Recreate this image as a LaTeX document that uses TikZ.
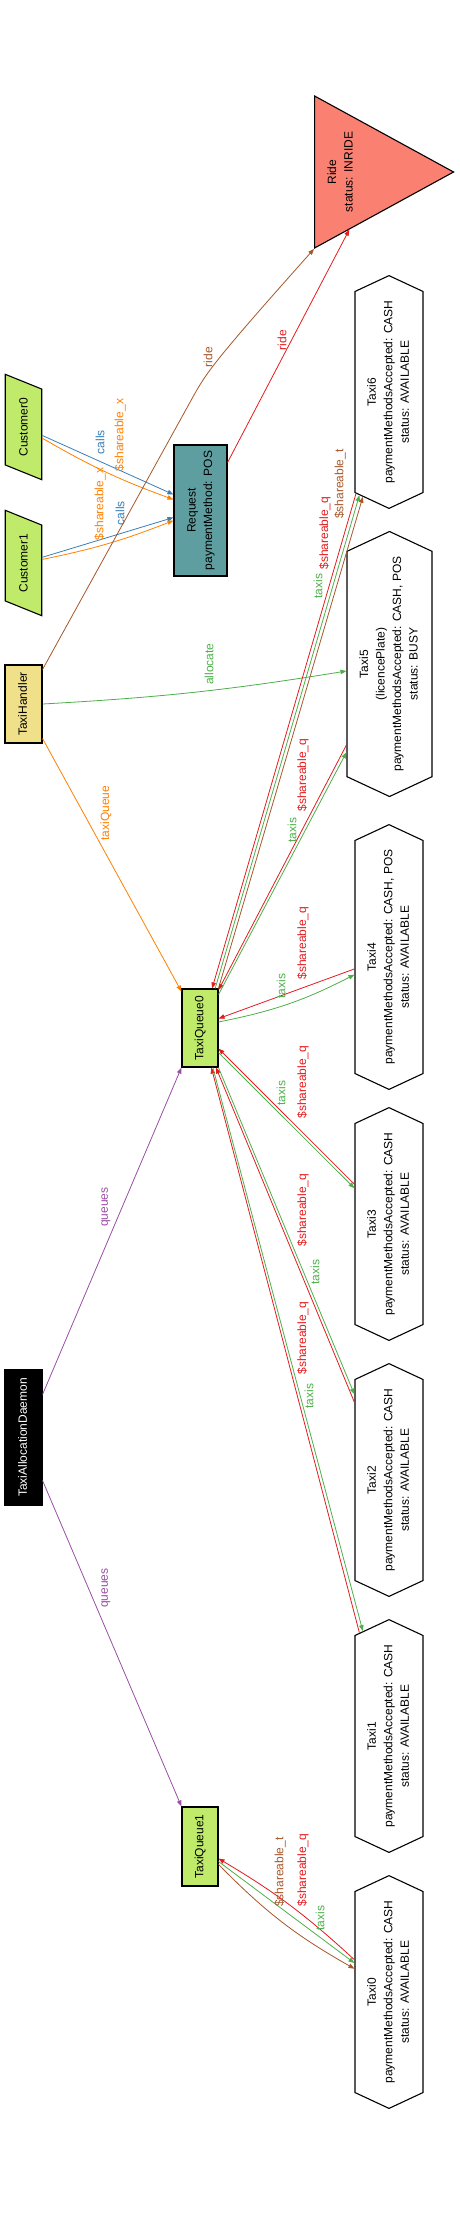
\documentclass[tikz,border=0pt]{standalone}
\usepackage{fontspec}
\setmainfont{Liberation Sans}
\usepackage{graphicx}
\usetikzlibrary{arrows.meta,shapes.geometric,shapes.symbols,calc}

\definecolor{setred}{HTML}{E41A1C}
\definecolor{setblue}{HTML}{377EB8}
\definecolor{setgreen}{HTML}{4DAF4A}
\definecolor{setpurple}{HTML}{984EA3}
\definecolor{setorange}{HTML}{FF7F00}
\definecolor{setbrown}{HTML}{A65628}
\definecolor{limefill}{HTML}{C0EB6A}
\definecolor{sandfill}{HTML}{F0E08A}
\definecolor{reqfill}{HTML}{5F9EA0}
\definecolor{ridefill}{HTML}{FA8072}

\newcommand{\vlines}[1]{\rotatebox{90}{\begin{tabular}{@{}c@{}}#1\end{tabular}}}

\begin{document}
\begin{tikzpicture}[x=1pt,y=-1pt,font=\fontsize{12}{16.5}\selectfont,
  box/.style={draw,line width=1.1pt,inner sep=2pt},
  cust/.style={box,trapezium,trapezium left angle=68,trapezium right angle=112,rotate=90,fill=limefill,inner xsep=8.6pt,inner ysep=14pt},
  taxi/.style={box,signal,signal to=north and south,signal pointer angle=130,minimum width=68,minimum height=226},
  arr/.style={-{Triangle[length=6pt,width=4.5pt]},line width=0.8pt},
  lab/.style={rotate=90,inner sep=0pt}]
\useasboundingbox (0,0) rectangle (460,2232);

\node[cust] (cust0) at (23.5,427) {Customer0};
\node[cust] (cust1) at (23.5,563) {Customer1};
\node[box,fill=sandfill,minimum width=37,minimum height=78] (handler) at (23.5,704) {\vlines{TaxiHandler}};
\node[box,fill=black,text=white,minimum width=37,minimum height=135] (daemon) at (23.5,1437.5) {\vlines{TaxiAllocationDaemon}};
\node[box,fill=reqfill,minimum width=53,minimum height=131] (req) at (200.5,510.5) {\vlines{Request\\paymentMethod: POS}};
\node[box,fill=limefill,minimum width=36,minimum height=78] (queue0) at (200,1028) {\vlines{TaxiQueue0}};
\node[box,fill=limefill,minimum width=36,minimum height=79] (queue1) at (200,1846.5) {\vlines{TaxiQueue1}};
\node[box,fill=ridefill,isosceles triangle,isosceles triangle stretches,minimum width=152,minimum height=127,anchor=apex] (ride) at (455,172) {\vlines{Ride\\status: INRIDE}};

\node[taxi] (taxi6) at (389,392) {\vlines{Taxi6\\paymentMethodsAccepted: CASH\\status: AVAILABLE}};
\node[taxi,minimum width=85,minimum height=258] (taxi5) at (389.5,664) {\vlines{Taxi5\\(licencePlate)\\paymentMethodsAccepted: CASH, POS\\status: BUSY}};
\node[taxi,minimum height=258] (taxi4) at (389,957) {\vlines{Taxi4\\paymentMethodsAccepted: CASH, POS\\status: AVAILABLE}};
\node[taxi] (taxi3) at (389,1224) {\vlines{Taxi3\\paymentMethodsAccepted: CASH\\status: AVAILABLE}};
\node[taxi] (taxi2) at (389,1480) {\vlines{Taxi2\\paymentMethodsAccepted: CASH\\status: AVAILABLE}};
\node[taxi] (taxi1) at (389,1736) {\vlines{Taxi1\\paymentMethodsAccepted: CASH\\status: AVAILABLE}};
\node[taxi] (taxi0) at (389,1992) {\vlines{Taxi0\\paymentMethodsAccepted: CASH\\status: AVAILABLE}};

\draw[arr,setblue] (cust0) -- ([yshift=16]req.west) node[lab] at (100,442) {calls};
\draw[arr,setorange] (cust0) to[bend right=5] ([yshift=11]req.west) node[lab] at (120,435) {\$shareable\_x};
\draw[arr,setblue] (cust1) -- ([yshift=-7]req.west) node[lab] at (120,513) {calls};
\draw[arr,setorange] (cust1) to[bend right=5] ([yshift=-10]req.west) node[lab] at (100,504) {\$shareable\_x};

\draw[arr,setbrown] ([yshift=-5]handler.north east) -- (194,395) .. controls (207,372) and (215,360) .. (ride.right corner) node[lab] at (208,357) {ride};
\draw[arr,setred] ([yshift=-18]req.north east) -- ($(ride.right corner)!0.25!(ride.apex)$) node[lab] at (282,340) {ride};
\draw[arr,setgreen] (handler.east) to[bend right=3] ([yshift=-7]taxi5.west) node[lab] at (209,664) {allocate};
\draw[arr,setorange] ([yshift=5]handler.south east) -- ([yshift=-3]queue0.north west) node[lab] at (106,813) {taxiQueue};
\draw[arr,setpurple] ([yshift=-25]daemon.north east) -- (queue0.south west) node[lab] at (106,1207) {queues};
\draw[arr,setpurple] ([yshift=25]daemon.south east) -- (queue1.north west) node[lab] at (106,1588) {queues};

\draw[arr,setred] (taxi6.-108) -- (queue0.73) node[lab] at (325,533) {\$shareable\_q};
\draw[arr,setgreen] (queue0.69) -- (taxi6.-106) node[lab] at (318,586) {taxis};
\draw[arr,setbrown] (queue0.65) -- (taxi6.-104) node[lab] at (340,484) {\$shareable\_t};

\draw[arr,setred] (taxi5.-118) -- (queue0.64) node[lab] at (303,775) {\$shareable\_q};
\draw[arr,setgreen] (queue0.61) -- (taxi5.-116) node[lab] at (292,830) {taxis};

\draw[arr,setred] (taxi4.-161) -- (queue0.27) node[lab] at (303,943) {\$shareable\_q};
\draw[arr,setgreen] (queue0.18) to[bend right=8] (taxi4.-153) node[lab] at (281,986) {taxis};

\draw[arr,setred] (taxi3.131) -- (queue0.-48) node[lab] at (303,1082) {\$shareable\_q};
\draw[arr,setgreen] (queue0.-53) -- (taxi3.134) node[lab] at (281,1093) {taxis};

\draw[arr,setred] (taxi2.114) -- (queue0.-68) node[lab] at (303,1210) {\$shareable\_q};
\draw[arr,setgreen] (queue0.-65) -- (taxi2.112) node[lab] at (315,1272) {taxis};

\draw[arr,setred] (taxi1.106) -- (queue0.-74) node[lab] at (303,1338) {\$shareable\_q};
\draw[arr,setgreen] (queue0.-72) -- (taxi1.104) node[lab] at (309,1396) {taxis};

\draw[arr,setred] (taxi0.137) to[bend right=6] (queue1.-33) node[lab] at (303,1870) {\$shareable\_q};
\draw[arr,setgreen] (queue1.-39) -- (taxi0.140) node[lab] at (320,1918) {taxis};
\draw[arr,setbrown] (queue1.-44) to[bend right=8] (taxi0.146) node[lab] at (280,1872) {\$shareable\_t};
\end{tikzpicture}
\end{document}
